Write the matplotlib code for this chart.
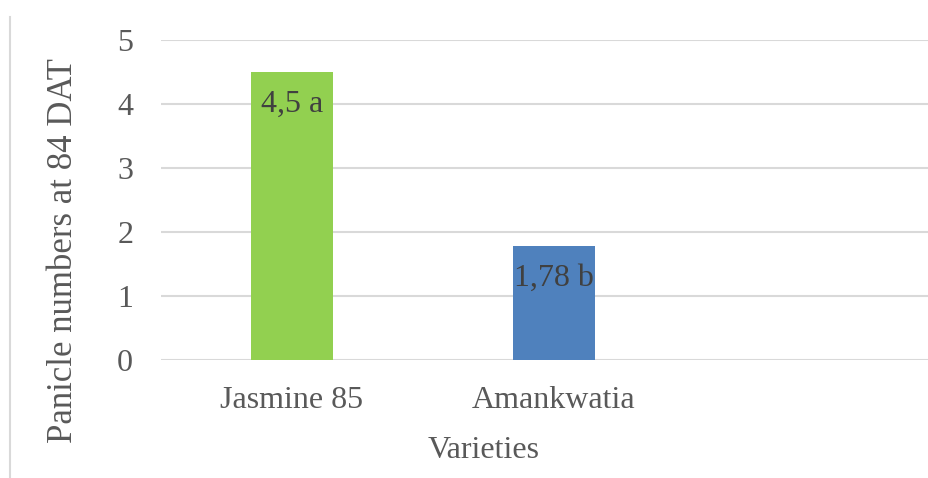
import numpy as np
import matplotlib.pyplot as plt
from matplotlib.lines import Line2D

# data
varieties = ['Jasmine 85', 'Amankwatia', '']
panicles = [4.5, 1.78, np.nan]
labels = ['4,5 a', '1,78 b', '']
colors = ['#92D050', '#4F81BD', '#FFFFFF']

plt.rcParams['font.family'] = ['Liberation Serif', 'DejaVu Serif']
grey = '#595959'

W, H = 929, 478
fig = plt.figure(figsize=(W / 100, H / 100), dpi=100)
ax = fig.add_axes([161 / W, (H - 360) / H, (929 - 161) / W, 320 / H])

x = np.arange(len(varieties))
bars = ax.bar(x, np.nan_to_num(panicles), width=0.31, color=colors, zorder=3)

for xi, v, lab in zip(x, panicles, labels):
    if lab:
        ax.annotate(lab, (xi, v), xytext=(0, -23), textcoords='offset points',
                    ha='center', va='center', fontsize=23, color='#404040', zorder=4)

ax.set_xlim(-0.5, -0.5 + 768 / 262)
ax.set_ylim(0, 5)
ax.set_yticks(range(6))
ax.set_xticks(x)
ax.set_xticklabels(varieties)
ax.tick_params(axis='both', length=0, labelsize=23, labelcolor=grey)
ax.tick_params(axis='y', pad=20)
ax.tick_params(axis='x', pad=19)
ax.yaxis.grid(True, color='#D9D9D9', linewidth=1.5, zorder=0)
for s in ax.spines.values():
    s.set_visible(False)

ax.set_ylabel('Panicle numbers at 84 DAT', fontsize=25, color=grey)
ax.yaxis.set_label_coords((80 - 161) / 768, (360 - 251) / 320)
fig.text(484 / W, 1 - 450 / H, 'Varieties', ha='center', va='center',
         fontsize=23, color=grey)

# thin frame line at the left edge
fig.add_artist(Line2D([10 / W, 10 / W], [0, 1 - 17 / H], color='#D9D9D9',
                      linewidth=1.5, transform=fig.transFigure))

fig.savefig('out.png', dpi=100)
